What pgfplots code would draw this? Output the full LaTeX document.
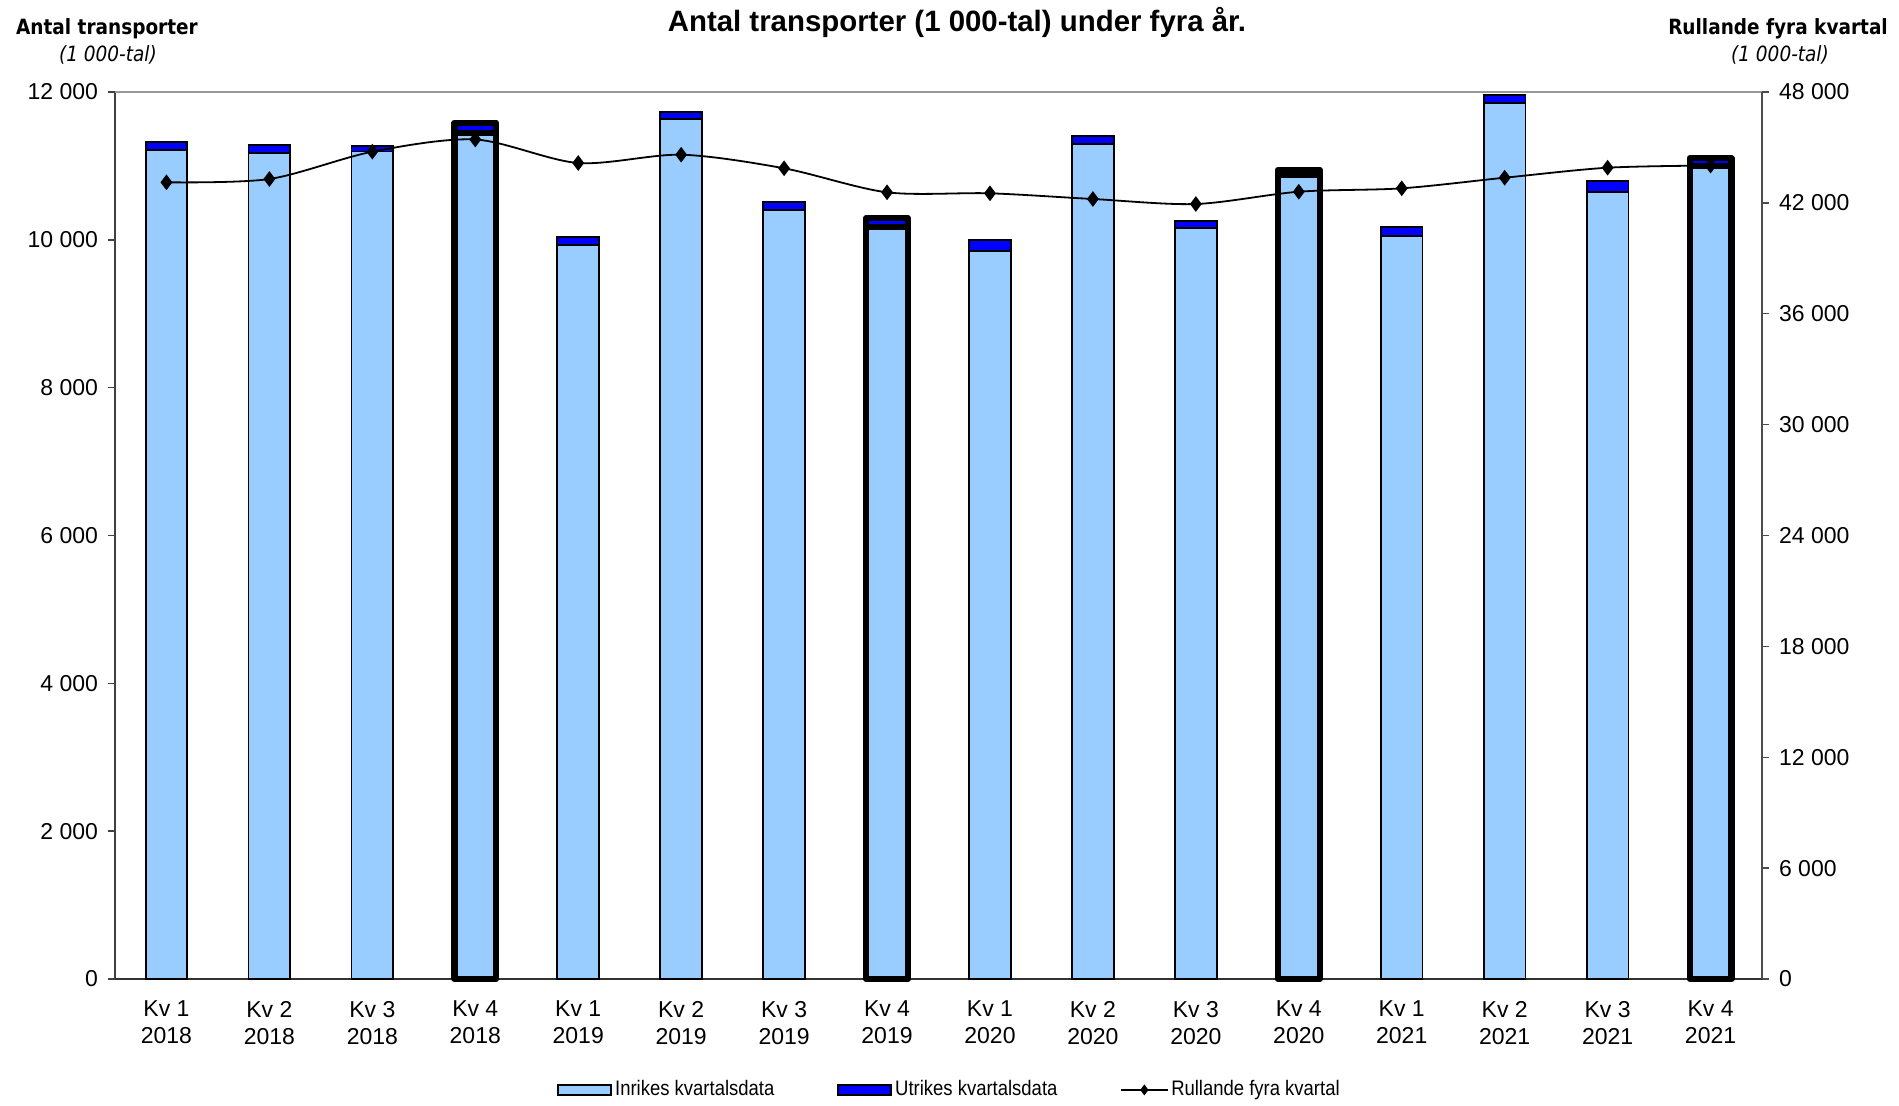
\documentclass[border=0pt]{standalone}
\usepackage{fontspec}
\setmainfont{Liberation Sans}
\newfontfamily\tah[FakeStretch=0.88]{DejaVu Sans}
\newfontfamily\narrow[FakeStretch=0.88]{Liberation Sans}
\usepackage{pgfplots}
\usepackage{pgfplotstable}
\pgfplotsset{compat=1.18}
\definecolor{inr}{HTML}{99CCFF}
\definecolor{utr}{HTML}{0000FF}
\pgfplotsset{
  barleg/.style={legend image code/.code={\draw[##1] (0pt,-2.5pt) rectangle (26.5pt,2.5pt);}},
  lineleg/.style={legend image code/.code={\draw[##1, mark size=2pt, mark repeat=2, mark phase=2] plot coordinates {(0pt,0pt) (11.5pt,0pt) (23pt,0pt)};}},
}

\pgfplotstableread{
x inr utr
0 11210 110
1 11171 112
2 11195 78
3 11445 140
4 9934 100
5 11631 98
6 10404 104
7 10171 120
8 9853 141
9 11296 109
10 10160 99
11 10874 71
12 10056 122
13 11847 117
14 10651 145
15 10995 110
}\bars

\pgfplotstableread{
x inr utr
3 11445 140
7 10171 120
11 10874 71
15 10995 110
}\kvfour

\pgfplotstableread{
x roll
0 43113
1 43292
2 44770
3 45430
4 44158
5 44607
6 43871
7 42572
8 42518
9 42210
10 41939
11 42604
12 42788
13 43362
14 43903
15 44020
}\roll

\begin{document}
\begin{tikzpicture}
\pgfplotsset{base/.style={width=823.5pt,height=443.5pt,scale only axis,at={(0pt,0pt)},anchor=south west,xmin=-0.5,xmax=15.5,clip=false,scaled y ticks=false,scaled x ticks=false}}
\begin{axis}[base, ymin=0, ymax=12000, ybar stacked, bar width=20.85pt,
  axis x line*=bottom, axis y line*=left,
  x axis line style={draw=black!80, line width=0.9pt},
  y axis line style={draw=black!75, line width=0.8pt},
  ytick={0,2000,4000,6000,8000,10000,12000},
  yticklabels={0,2 000,4 000,6 000,8 000,10 000,12 000},
  xtick={0,...,15},
  xticklabels={{Kv 1\\2018},{Kv 2\\2018},{Kv 3\\2018},{Kv 4\\2018},{Kv 1\\2019},{Kv 2\\2019},{Kv 3\\2019},{Kv 4\\2019},{Kv 1\\2020},{Kv 2\\2020},{Kv 3\\2020},{Kv 4\\2020},{Kv 1\\2021},{Kv 2\\2021},{Kv 3\\2021},{Kv 4\\2021}},
  x tick label style={align=center, font=\fontsize{11.5}{13.5}\selectfont, yshift=-4pt},
  y tick label style={font=\fontsize{11.5}{13.5}\selectfont, xshift=-1.5pt},
  tick align=outside, major tick length=3.5pt,
  x tick style={draw=none},
  y tick style={draw=black!75, line width=0.7pt},
  ]
\addplot[fill=inr, draw=black, line width=0.9pt] table[x=x,y=inr]{\bars};
\addplot[fill=utr, draw=black, line width=0.9pt] table[x=x,y=utr]{\bars};
\end{axis}

\begin{axis}[base, ymin=0, ymax=12000, ybar stacked, bar width=20.85pt, hide axis]
\addplot[fill=inr, draw=black, line width=3.15pt, line join=round] table[x=x,y=inr]{\kvfour};
\addplot[fill=utr, draw=black, line width=3.15pt, line join=round] table[x=x,y=utr]{\kvfour};
\end{axis}

\begin{axis}[base, ymin=0, ymax=48000,
  axis x line*=top, axis y line*=right,
  x axis line style={draw=black!40, line width=1.3pt},
  y axis line style={draw=black!70, line width=0.8pt},
  xtick=\empty,
  ytick={0,6000,12000,18000,24000,30000,36000,42000,48000},
  yticklabels={0,6 000,12 000,18 000,24 000,30 000,36 000,42 000,48 000},
  y tick label style={font=\fontsize{11.5}{13.5}\selectfont, xshift=1.5pt},
  tick align=outside, major tick length=3.5pt,
  y tick style={draw=black!70, line width=0.7pt},
  legend columns=3,
  legend cell align=left,
  legend style={draw=none, fill=none, at={(axis description cs:0.507,-0.125)}, anchor=center,
    font=\narrow\fontsize{10.5}{12}\selectfont,
    nodes={inner sep=1.5pt},
    /tikz/every even column/.append style={column sep=30pt}},
  ]
\addlegendimage{fill=inr, draw=black, line width=0.9pt, barleg}
\addlegendentry{Inrikes kvartalsdata}
\addlegendimage{fill=utr, draw=black, line width=0.9pt, barleg}
\addlegendentry{Utrikes kvartalsdata}
\addplot[black, line width=0.9pt, smooth, mark=diamond*, mark size=3.2pt, lineleg]
  table[x=x,y=roll]{\roll};
\addlegendentry{Rullande fyra kvartal}
\end{axis}

\node[font=\bfseries\fontsize{14.7}{17}\selectfont] at (421pt,478.5pt) {Antal transporter (1 000-tal) under fyra år.};
\node[font=\tah\bfseries\fontsize{10.5}{12}\selectfont] at (-4pt,475pt) {Antal transporter};
\node[font=\tah\itshape\fontsize{10.5}{12}\selectfont] at (-3.5pt,462pt) {(1 000-tal)};
\node[font=\tah\bfseries\fontsize{10.5}{12}\selectfont] at (831.5pt,475pt) {Rullande fyra kvartal};
\node[font=\tah\itshape\fontsize{10.5}{12}\selectfont] at (832.5pt,462pt) {(1 000-tal)};

\pgfresetboundingbox
\useasboundingbox (-57.5pt,-63pt) rectangle (892pt,489.5pt);
\end{tikzpicture}
\end{document}
